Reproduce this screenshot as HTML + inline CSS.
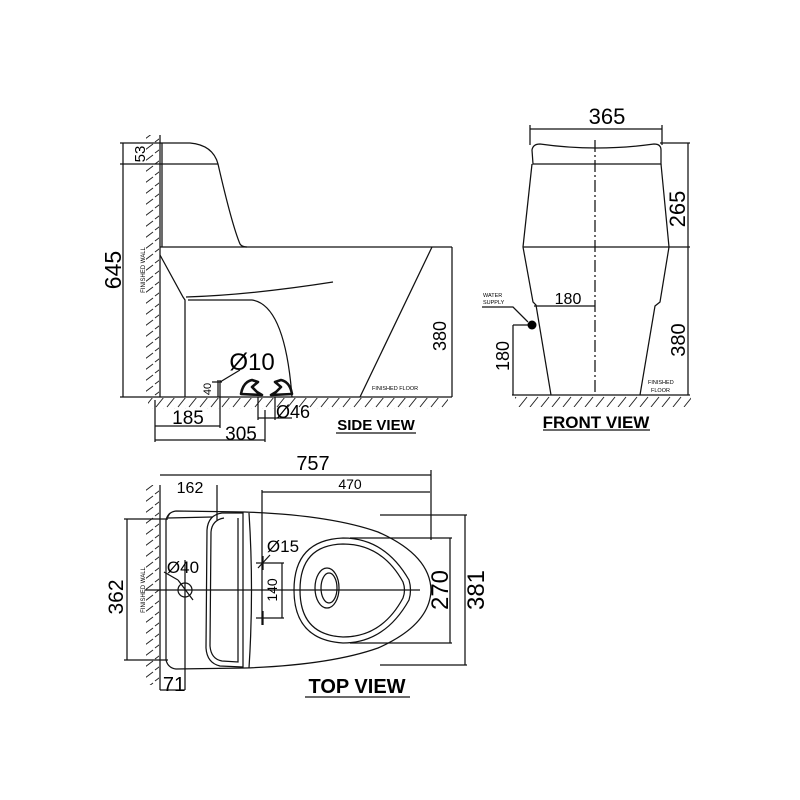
<!DOCTYPE html>
<html><head><meta charset="utf-8"><style>
html,body{margin:0;padding:0;background:#fff}
svg{display:block}
text{font-family:"Liberation Sans",Arial,sans-serif;fill:#000}
</style></head><body>
<svg width="800" height="800" viewBox="0 0 800 800" xmlns="http://www.w3.org/2000/svg">
<defs>
<pattern id="hf" width="11" height="12" patternUnits="userSpaceOnUse">
<line x1="2" y1="11" x2="10" y2="1" stroke="#222" stroke-width="1"/>
</pattern>
<pattern id="hw" width="14" height="11" patternUnits="userSpaceOnUse">
<line x1="1" y1="10" x2="13" y2="1" stroke="#222" stroke-width="1"/>
</pattern>
</defs>
<g fill="none" stroke="#111" stroke-width="1.25">
<rect x="146" y="135" width="13" height="262" fill="url(#hw)" stroke="none"/>
<rect x="148" y="398" width="300" height="11" fill="url(#hf)" stroke="none"/>
<line x1="160" y1="135" x2="160" y2="397"/>
<line x1="120" y1="397" x2="452" y2="397"/>
<path d="M120 143 H190 Q213 145 218 164 Q232 225 240 244 Q242 247 247 247"/>
<line x1="120" y1="164" x2="218" y2="164"/>
<line x1="162" y1="143" x2="162" y2="247"/>
<line x1="160" y1="247" x2="452" y2="247"/>
<path d="M432 247 L360 397"/>
<path d="M160 255 L183 297 L185 300 V397"/>
<path d="M186 297 Q250 295 333 282"/>
<path d="M188 300 H252 Q285 305 292 397"/>
<path d="M241 394 Q243 382 252 380 L258 382 L252 387 L257 392 L262 395 Z" stroke-width="2.6" stroke-linejoin="round"/>
<path d="M292 394 Q290 382 281 380 L275 382 L281 387 L276 392 L271 395 Z" stroke-width="2.6" stroke-linejoin="round"/>
<line x1="258" y1="397" x2="258" y2="420"/><line x1="275" y1="397" x2="275" y2="420"/>
<line x1="258" y1="418" x2="292" y2="418"/>
<line x1="123" y1="143" x2="123" y2="397"/>
<line x1="452" y1="247" x2="452" y2="397"/>
<line x1="218" y1="380" x2="218" y2="397"/>
<line x1="212" y1="382" x2="222" y2="382"/>
<line x1="220" y1="382" x2="240" y2="370"/>
<line x1="155" y1="426" x2="220" y2="426"/>
<line x1="220" y1="380" x2="220" y2="428"/>
<line x1="155" y1="440" x2="265" y2="440"/>
<line x1="265" y1="410" x2="265" y2="442"/>
<line x1="155" y1="400" x2="155" y2="442"/>
<line x1="336" y1="433" x2="416" y2="433"/>
<rect x="515" y="396" width="176" height="11" fill="url(#hf)" stroke="none"/>
<line x1="512" y1="395" x2="690" y2="395"/>
<line x1="530" y1="129" x2="662" y2="129"/>
<line x1="530" y1="125" x2="530" y2="145"/><line x1="662" y1="125" x2="662" y2="145"/>
<path d="M533 164 L532 150 Q533 144 540 144 Q596 152 654 144 Q661 144 661 150 L661 164 Z"/>
<path d="M532 164 L523 247 L533 302 L536 305 L551 395"/>
<path d="M661 164 L669 247 L660 302 L655 306 L640 395"/>
<line x1="523" y1="247" x2="690" y2="247"/>
<line x1="595" y1="140" x2="595" y2="395" stroke-dasharray="12 3 2 3"/>
<line x1="660" y1="143" x2="690" y2="143"/>
<line x1="688" y1="143" x2="688" y2="395"/>
<line x1="534" y1="306" x2="595" y2="306"/>
<line x1="513" y1="325" x2="513" y2="395"/><line x1="513" y1="325" x2="530" y2="325"/>
<path d="M482 307 H513 L528 322"/>
<line x1="543" y1="430" x2="650" y2="430"/>
<rect x="146" y="485" width="13" height="200" fill="url(#hw)" stroke="none"/>
<line x1="160" y1="485" x2="160" y2="690"/>
<line x1="160" y1="475" x2="431" y2="475"/>
<line x1="431" y1="470" x2="431" y2="540"/>
<line x1="217" y1="485" x2="217" y2="520"/>
<line x1="262" y1="492" x2="430" y2="492"/>
<line x1="262" y1="490" x2="262" y2="625"/>
<path d="M166 520 Q168 512 176 511 L245 512 Q330 515 378 532 Q430 555 431 590 Q430 625 378 648 Q330 665 245 668 L176 669 Q168 668 166 660 Z"/>
<path d="M170 513 L166 520 M168 518 L212 517"/>
<path d="M222 513 Q208 515 207 530 L206 648 Q207 663 220 666 L243 667 L243 513 Z"/>
<path d="M224 518 Q212 520 211 532 L210 646 Q211 659 222 661 L238 662 L238 518"/>
<path d="M249 513 Q254 590 249 668"/>
<line x1="145" y1="590" x2="420" y2="590"/>
<line x1="185" y1="560" x2="185" y2="690"/>
<circle cx="185" cy="590" r="7"/>
<line x1="178" y1="580" x2="193" y2="600"/>
<line x1="164" y1="572" x2="178" y2="580"/>
<path d="M294 590 Q294 540 343 538 Q385 538 409 580 Q412 590 409 600 Q385 643 343 643 Q294 640 294 590 Z"/>
<path d="M300 590 Q300 545 343 544 Q382 544 403 582 Q406 590 403 598 Q382 637 343 637 Q300 635 300 590 Z"/>
<ellipse cx="327" cy="588" rx="12" ry="20"/>
<ellipse cx="329" cy="588" rx="8" ry="15"/>
<line x1="256" y1="563" x2="284" y2="563"/><line x1="256" y1="618" x2="284" y2="618"/>
<line x1="282" y1="563" x2="282" y2="618"/>
<line x1="263" y1="556" x2="263" y2="570"/><line x1="263" y1="611" x2="263" y2="625"/>
<line x1="258" y1="568" x2="270" y2="555"/>
<line x1="350" y1="538" x2="452" y2="538"/><line x1="350" y1="643" x2="452" y2="643"/>
<line x1="450" y1="538" x2="450" y2="643"/>
<line x1="380" y1="515" x2="467" y2="515"/><line x1="380" y1="665" x2="467" y2="665"/>
<line x1="465" y1="515" x2="465" y2="665"/>
<line x1="124" y1="519" x2="168" y2="519"/><line x1="124" y1="660" x2="168" y2="660"/>
<line x1="127" y1="519" x2="127" y2="660"/>
<line x1="160" y1="690" x2="185" y2="690"/>
<line x1="305" y1="697" x2="410" y2="697"/>
</g>
<circle cx="532" cy="325" r="4.5" fill="#000"/>
<text x="0" y="0" font-size="23" transform="translate(121,270) rotate(-90)" text-anchor="middle">645</text>
<text x="0" y="0" font-size="15" transform="translate(145,154) rotate(-90)" text-anchor="middle">53</text>
<text x="0" y="0" font-size="6" transform="translate(145,270) rotate(-90)" text-anchor="middle">FINISHED WALL</text>
<text x="0" y="0" font-size="18" transform="translate(446,336) rotate(-90)" text-anchor="middle">380</text>
<text x="252" y="370" font-size="24" text-anchor="middle">Ø10</text>
<text x="0" y="0" font-size="11" transform="translate(211,389) rotate(-90)" text-anchor="middle">40</text>
<text x="372" y="390" font-size="5.5">FINISHED FLOOR</text>
<text x="188" y="424" font-size="19" text-anchor="middle">185</text>
<text x="241" y="440" font-size="19" text-anchor="middle">305</text>
<text x="293" y="418" font-size="18" text-anchor="middle">Ø46</text>
<text x="376" y="430" font-size="15" font-weight="bold" text-anchor="middle">SIDE VIEW</text>
<text x="607" y="124" font-size="22" text-anchor="middle">365</text>
<text x="0" y="0" font-size="22" transform="translate(685,209) rotate(-90)" text-anchor="middle">265</text>
<text x="0" y="0" font-size="20" transform="translate(685,340) rotate(-90)" text-anchor="middle">380</text>
<text x="568" y="304" font-size="16" text-anchor="middle">180</text>
<text x="0" y="0" font-size="18" transform="translate(509,356) rotate(-90)" text-anchor="middle">180</text>
<text x="483" y="297" font-size="5.5">WATER</text>
<text x="483" y="304" font-size="5.5">SUPPLY</text>
<text x="648" y="384" font-size="5.5">FINISHED</text>
<text x="651" y="392" font-size="5.5">FLOOR</text>
<text x="596" y="428" font-size="17" font-weight="bold" text-anchor="middle">FRONT VIEW</text>
<text x="313" y="470" font-size="20" text-anchor="middle">757</text>
<text x="190" y="493" font-size="16" text-anchor="middle">162</text>
<text x="350" y="489" font-size="14" text-anchor="middle">470</text>
<text x="183" y="573" font-size="17" text-anchor="middle">Ø40</text>
<text x="283" y="552" font-size="17" text-anchor="middle">Ø15</text>
<text x="0" y="0" font-size="14" transform="translate(277,590) rotate(-90)" text-anchor="middle">140</text>
<text x="0" y="0" font-size="24" transform="translate(448,590) rotate(-90)" text-anchor="middle">270</text>
<text x="0" y="0" font-size="24" transform="translate(484,590) rotate(-90)" text-anchor="middle">381</text>
<text x="0" y="0" font-size="21" transform="translate(123,597) rotate(-90)" text-anchor="middle">362</text>
<text x="0" y="0" font-size="6" transform="translate(145,590) rotate(-90)" text-anchor="middle">FINISHED WALL</text>
<text x="174" y="691" font-size="20" text-anchor="middle">71</text>
<text x="357" y="693" font-size="20" font-weight="bold" text-anchor="middle">TOP VIEW</text>
</svg>
</body></html>
